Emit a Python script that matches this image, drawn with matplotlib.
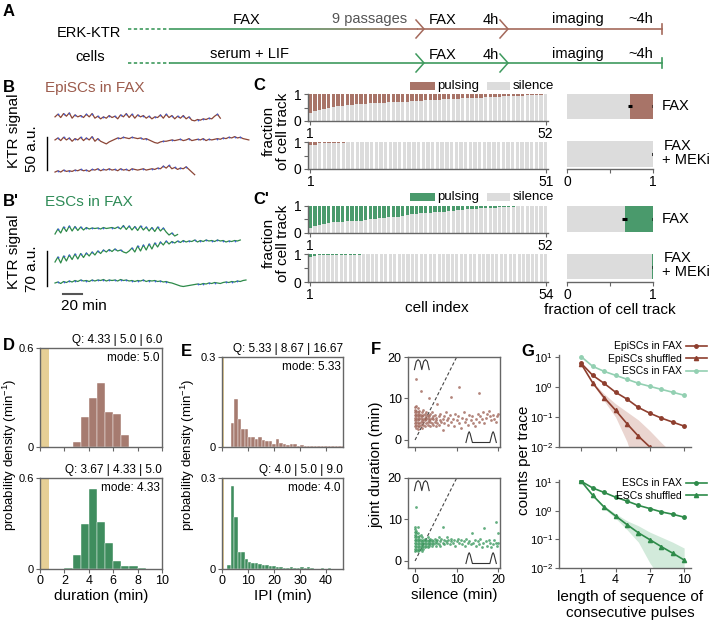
import numpy as np
import matplotlib.pyplot as plt
from matplotlib.patches import Rectangle
from matplotlib.collections import LineCollection
from matplotlib.colors import to_rgb

# ---------------- data ----------------
# B / B' example KTR traces (a.u., relative), sampled every 3 min
TRACE_DT = 3.0
EPI_TRACE_1 = [0, 4, -1, 5, 1, 6, -2, 3, 0, 2, -1, 4, 0, 5, -2, 1, -3, 0, -2, 2, -1, 1, -3, 3, 0, 5, -1, 4, -2, 3,
               0, 2, -2, 1, -3, 0, -1, 3, -2, 4, -1, 2, -3, 1, -2, 2, -3, 0, -5, -6, -4, -5, -3, -4, -2, -3, 1, 4, -2]
EPI_TRACE_2 = [0, 3, -1, 4, 0, 3, -2, 2, 0, 4, -1, 3, 0, 5, -2, 2, -2, -4, -6, -3, -1, 1, 3, 2, 4, 3, 2, 4, 3, 2,
               3, 1, 2, 0, -2, -4, -5, -3, -2, -2, -1, 0, -1, 0, 1, -1, 0, 2, -1, 0, 1, 0, 2, -1, 1, 0, 1, 2, 1, 3,
               2, 4, 3, 5, 3, 4, 2, 1, 0]
EPI_TRACE_3 = [-3, -1, -3, 0, -2, -1, -2, 0, -1, 1, -1, 0, -2, 1, 0, 2, -1, 1, 0, 2, 0, 1, -1, 2, 0, 1, -1, 2, 1, 0,
               1, 2, 0, 1, 2, 1, 3, 2, 6, 3, 7, 2, 4, 1, 3, 2, 5, 1, -3, -7]
ESC_TRACE_1 = [-8, 2, -6, 6, -3, 8, -2, 7, -1, 6, 0, 5, 2, 4, 3, 4, 2, 5, 3, 4, 5, 3, 6, 2, 9, 1, 8, 0, 7, -1,
               8, 0, 6, -2, 5, -3, 6, -2, 4, -4, -10, -6, -12, -9]
ESC_TRACE_2 = [0, 10, -2, 12, 2, 14, 5, 16, 6, 17, 9, 18, 12, 20, 14, 22, 17, 24, 20, 25, 21, 26, 22, 24, 20, 18,
               22, 28, 20, 32, 22, 34, 24, 36, 26, 38, 30, 40, 34, 42, 36, 41, 38, 42, 39, 43, 40, 42, 41, 44, 40,
               43, 41, 44, 42, 43, 41, 44, 42, 43, 40, 42, 41, 43, 42, 44]
ESC_TRACE_3 = [0, 2, -1, 3, 1, 4, 2, 5, 3, 6, 4, 5, 3, 6, 4, 6, 5, 7, 4, 6, 5, 6, 4, 7, 5, 6, 4, 5, 3, 5, 4, 6,
               3, 5, 4, 5, 3, 4, 2, 3, 1, 0, -2, -4, -6, -7, -6, -5, -4, -3, -2, -3, -1, -2, 0, -1, 1, 0, -1, 1, 2,
               1, 3, 2, 4, 3, 5, 6]

# C / C' silence fraction per cell (sorted)
EPI_FAX_SIL = [0.30, 0.36, 0.41, 0.45, 0.48, 0.51, 0.54, 0.56, 0.58, 0.60, 0.62, 0.63, 0.64, 0.65, 0.66, 0.67,
               0.68, 0.69, 0.70, 0.70, 0.71, 0.72, 0.73, 0.74, 0.75, 0.76, 0.77, 0.78, 0.79, 0.80, 0.81, 0.82,
               0.83, 0.84, 0.85, 0.85, 0.86, 0.87, 0.88, 0.88, 0.89, 0.90, 0.91, 0.92, 0.92, 0.93, 0.94, 0.95,
               0.96, 0.97, 0.98, 0.99]
EPI_MEK_SIL = [0.88, 0.90, 0.96, 0.97, 0.98, 0.98, 0.98, 0.98, 0.99, 0.99, 0.99, 0.99, 0.99, 0.99, 0.99] + [1.0] * 36
ESC_FAX_SIL = [0.20, 0.26, 0.31, 0.35, 0.37, 0.40, 0.41, 0.42, 0.43, 0.44, 0.45, 0.46, 0.48, 0.50, 0.52, 0.54,
               0.56, 0.58, 0.59, 0.61, 0.64, 0.67, 0.69, 0.71, 0.73, 0.74, 0.75, 0.76, 0.77, 0.78, 0.80, 0.82,
               0.84, 0.86, 0.88, 0.89, 0.90, 0.91, 0.92, 0.93, 0.94, 0.95, 0.96, 0.97, 0.98, 0.985, 0.99, 0.995,
               1.0, 1.0, 1.0, 1.0]
ESC_MEK_SIL = [0.90, 0.93, 0.96, 0.96, 0.96, 0.98, 0.98, 0.98, 0.98, 0.98, 0.98, 0.98, 0.99, 0.99, 0.99, 0.99] + [1.0] * 38

# summary bars: mean silence fraction and its error
SUMMARY_SIL = {'EpiSC FAX': 0.73, 'EpiSC MEKi': 0.995, 'ESC FAX': 0.67, 'ESC MEKi': 0.99}
SUMMARY_ERR = {'EpiSC FAX': 0.025, 'EpiSC MEKi': 0.004, 'ESC FAX': 0.03, 'ESC MEKi': 0.004}

# D durations histogram (bins of 2/3 min)
DUR_BIN = 2 / 3
DUR_EPI_START, DUR_EPI = 8 / 3, [0.03, 0.18, 0.30, 0.39, 0.21, 0.20, 0.07]
DUR_ESC_START, DUR_ESC = 2.0, [0.007, 0.095, 0.30, 0.53, 0.31, 0.17, 0.05, 0.022, 0.022, 0.009]

# E IPI histogram (bins of 4/3 min)
IPI_BIN = 4 / 3
IPI_EPI_START = 10 / 3
IPI_EPI = [0.079, 0.16, 0.093, 0.06, 0.06, 0.033, 0.033, 0.028, 0.035, 0.024, 0.019, 0.019, 0.011, 0.028, 0.013,
           0.011, 0.008, 0.011, 0.009, 0.005, 0.007, 0.005, 0.005, 0.004, 0.004, 0.002, 0.002, 0.004, 0.002, 0.002,
           0.004, 0.004, 0.004]
IPI_ESC_START = 2.0
IPI_ESC = [0.013, 0.275, 0.173, 0.055, 0.055, 0.033, 0.022, 0.021, 0.019, 0.015, 0.013, 0.013, 0.010, 0.011, 0.005,
           0.008, 0.004, 0.004, 0.008, 0.002, 0.002, 0.006, 0.002, 0.006, 0.002, 0.001, 0.001, 0.002, 0.001, 0.002,
           0.001, 0.001]

# F silence vs joint duration (min)
F_EPI = [(0, 3.3), (0, 4), (0, 4.7), (0, 5.3), (0, 6), (0, 6.7), (0, 7.3), (0, 8), (0.33, 3), (0.33, 3.7),
         (0.33, 4.3), (0.33, 5), (0.33, 5.7), (0.33, 6.3), (0.33, 7), (0.33, 8.3), (0.67, 2.7), (0.67, 3.3),
         (0.67, 4), (0.67, 4.7), (0.67, 5.3), (0.67, 6), (0.67, 6.7), (0.67, 7.7), (0.3, 14.7),
         (1, 3.3), (1, 4), (1, 5), (1, 5.7), (1, 6.3), (1, 7), (1.33, 3.7), (1.33, 4.3), (1.33, 5.3), (1.33, 6),
         (1.33, 11.7), (1.67, 3), (1.67, 4.7), (1.67, 5.7), (1.67, 6.7), (2, 3.7), (2, 4.3), (2, 5), (2, 6),
         (2, 7.3), (2.33, 3.3), (2.33, 4.7), (2.33, 5.3), (2.33, 6.3), (2.67, 4), (2.67, 5), (2.67, 5.7),
         (2.67, 6.7), (3, 3.7), (3, 4.3), (3, 5.3), (3, 6), (3.33, 4.7), (3.33, 5.7), (3.33, 10), (3.67, 3.3),
         (3.67, 4.3), (3.67, 5), (3.67, 6.3), (4, 4), (4, 5.3), (4, 6.7), (4.33, 3.7), (4.33, 5), (4.33, 5.7),
         (4.67, 4.3), (4.67, 6), (5, 3.3), (5, 4.7), (5, 5.3), (5.33, 8.7), (5.33, 4), (5.67, 5.7), (5.67, 3.7),
         (6, 4.7), (6, 6.3), (6.33, 4.3), (6.67, 5), (6.67, 2.3), (7, 5.7), (7, 4), (7.33, 6.7), (7.67, 4.7),
         (8, 3.7), (8, 5.3), (8.33, 6), (8.67, 10.3), (8.67, 4.3), (9, 5), (9.33, 3.3), (9.67, 6.3), (10, 4.7),
         (10.33, 5.7), (10.67, 12.7), (10.67, 4), (11, 3), (11.33, 5.3), (11.67, 6.7), (12, 4.3), (12.33, 5),
         (12.67, 3.7), (13, 6), (13.33, 4.7), (13.67, 5.7), (14, 4), (14.33, 3.3), (14.67, 5), (15, 6.3),
         (15.33, 11.3), (15.33, 4.3), (15.67, 5.7), (16, 5), (16.33, 6.7), (16.67, 4), (17, 5.3), (17.33, 6.3),
         (17.67, 7), (18, 5.7), (18.33, 4.7), (18.67, 6), (19, 5), (19.33, 4.3), (19.67, 5.7), (20, 6.3)]
F_ESC = [(0, 2.3), (0, 3), (0, 3.7), (0, 4.3), (0, 5), (0, 5.7), (0, 6.3), (0, 7), (0, 7.7), (0, 8.3),
         (0.33, 2.7), (0.33, 3.3), (0.33, 4), (0.33, 4.7), (0.33, 5.3), (0.33, 6), (0.33, 6.7), (0.33, 7.3),
         (0.33, 13), (0.67, 2.3), (0.67, 3), (0.67, 3.7), (0.67, 4.3), (0.67, 5), (0.67, 5.7), (0.67, 6.7),
         (0.67, 8.3), (1, 2.7), (1, 3.3), (1, 4), (1, 4.7), (1, 5.3), (1, 6), (1.33, 3), (1.33, 3.7), (1.33, 4.3),
         (1.33, 5), (1.33, 6.3), (1.67, 2.3), (1.67, 3.3), (1.67, 4), (1.67, 4.7), (1.67, 5.7), (2, 3), (2, 3.7),
         (2, 4.3), (2, 5), (2.33, 3.3), (2.33, 4), (2.33, 4.7), (2.33, 5.3), (2.67, 3.7), (2.67, 4.3), (2.67, 5),
         (3, 3.3), (3, 4), (3, 4.7), (3, 5.7), (3.33, 3.7), (3.33, 4.3), (3.33, 5), (3.67, 4), (3.67, 4.7),
         (3.67, 5.3), (4, 3.7), (4, 4.3), (4, 5), (4.33, 4), (4.33, 4.7), (4.67, 4.3), (4.67, 5.3), (5, 3.7),
         (5, 4.7), (5.33, 4.3), (5.33, 5), (5.67, 4), (5.67, 5.7), (6, 4.7), (6, 3.7), (6.33, 5.3), (6.67, 8.3),
         (6.67, 4.3), (7, 5), (7, 4), (7.33, 4.7), (7.67, 5.7), (7.67, 4.3), (8, 5), (8.33, 4), (8.67, 4.7),
         (8.67, 5.3), (9, 4.3), (9.33, 5), (9.67, 3.7), (10, 4.7), (10.33, 5.3), (10.67, 4.3), (11, 5),
         (11.33, 4), (11.67, 4.7), (12, 3.7), (12.33, 5.3), (12.67, 4.3), (13, 4.7), (13.33, 4), (13.67, 6.7),
         (14, 4.3), (14.33, 5), (14.67, 3.7), (15, 4.7), (15.33, 4), (15.67, 5.3), (16, 3.3), (16.33, 4.3),
         (16.67, 8), (17, 4.7), (17.33, 3.7), (17.67, 5), (18, 4.3), (18.33, 3.3), (18.67, 4), (19, 5),
         (19.33, 9.5), (19.33, 4.3), (19.67, 3.7), (20, 6.7), (20, 4.3)]
F_DIAG_SLOPE = 2

# G consecutive pulse sequence counts
SEQ_LEN = [1, 2, 3, 4, 5, 6, 7, 8, 9, 10]
G_EPI = [6.3, 2.5, 1.35, 0.68, 0.40, 0.21, 0.135, 0.093, 0.068, 0.05]
G_EPI_SHUF = [6.0, 1.4, 0.45, 0.17, 0.06, 0.023, 0.01, 0.004, 0.0015, 0.0006]
G_EPI_SHUF_LO = [6.0, 1.3, 0.35, 0.10, 0.015, 0.001, 0.0005, 0.0001, 0.0001, 0.0001]
G_EPI_SHUF_HI = [6.0, 1.5, 0.60, 0.28, 0.15, 0.08, 0.035, 0.014, 0.006, 0.003]
G_ESC_TOP = [10.5, 5.0, 3.4, 2.5, 1.85, 1.35, 1.07, 0.85, 0.68, 0.54]
G_ESC = [10.8, 6.3, 4.4, 3.0, 2.2, 1.55, 1.2, 0.92, 0.76, 0.6]
G_ESC_SHUF = [10.8, 3.5, 1.35, 0.66, 0.33, 0.17, 0.098, 0.056, 0.033, 0.019]
G_ESC_SHUF_LO = [10.8, 3.3, 1.2, 0.55, 0.22, 0.08, 0.015, 0.004, 0.002, 0.001]
G_ESC_SHUF_HI = [10.8, 3.7, 1.5, 0.80, 0.45, 0.30, 0.18, 0.12, 0.08, 0.05]

# ---------------- style ----------------
plt.rcParams['font.family'] = ['Liberation Sans', 'DejaVu Sans']
plt.rcParams['mathtext.fontset'] = 'custom'
plt.rcParams['mathtext.rm'] = 'Liberation Sans'
plt.rcParams['mathtext.it'] = 'Liberation Sans:italic'
plt.rcParams.update({
    'font.size': 9, 'axes.linewidth': 1.0, 'axes.edgecolor': '#666666',
    'xtick.color': '#666666', 'ytick.color': '#666666',
    'xtick.labelcolor': 'black', 'ytick.labelcolor': 'black',
    'xtick.major.size': 3, 'ytick.major.size': 3,
    'xtick.labelsize': 9, 'ytick.labelsize': 9,
    'xtick.major.pad': 1.5, 'ytick.major.pad': 1.5,
})

BROWN = '#8E3E2E'
BROWN_BAR = '#A87468'
BROWN_HIST = '#A67B70'
BROWN_DOT = '#A0675A'
GREEN = '#2E8B4A'
GREEN_BAR = '#4A9A6C'
GREEN_HIST = '#3F8D5E'
GREEN_DOT = '#3D9A60'
LIGHT_GREEN = '#93D0B2'
GRAY = '#DCDCDC'
KHAKI = '#E6CF96'
TRACE_BROWN = '#8B4536'
TRACE_GREEN = '#2D8A49'
PEAK_BLUE = '#3B5BDB'

W, H = 713, 620
fig = plt.figure(figsize=(W / 100, H / 100), dpi=100)


def px_axes(l, t, r, b):
    return fig.add_axes([l / W, 1 - b / H, (r - l) / W, (b - t) / H])


# ---------------- B / B' traces ----------------
def draw_traces(ax, traces, offsets, color):
    for tr, off in zip(traces, offsets):
        v = np.asarray(tr, float)
        t = np.arange(len(v)) * TRACE_DT
        ax.plot(t, v + off, color=color, lw=0.9)
        pk = [i for i in range(1, len(v) - 1) if v[i] > v[i - 1] and v[i] >= v[i + 1]]
        ax.plot(t[pk], v[pk] + off, 'o', color=PEAK_BLUE, ms=1.3, mew=0)


axb = px_axes(40, 100, 255, 180)
axb.set_xlim(-15.8, 210.5)
axb.set_ylim(0, 121)
axb.axis('off')
draw_traces(axb, [EPI_TRACE_1, EPI_TRACE_2, EPI_TRACE_3], [95.5, 60.6, 15], TRACE_BROWN)
axb.plot([-8.4, -8.4], [15, 65], color='black', lw=1)

axb2 = px_axes(40, 215, 255, 300)
axb2.set_xlim(-15.8, 210.5)
axb2.set_ylim(0, 170)
axb2.axis('off')
draw_traces(axb2, [ESC_TRACE_1, ESC_TRACE_2, ESC_TRACE_3], [140, 76, 34], TRACE_GREEN)
axb2.plot([-8.4, -8.4], [28, 98], color='black', lw=1)
axb2.plot([8.4, 28.4], [12, 12], color='#555555', lw=1.5)


# ---------------- C / C' ----------------
def cell_bars(ax, sil, color):
    sil = np.asarray(sil)
    n = len(sil)
    idx = np.arange(1, n + 1)
    ax.bar(idx, sil, width=0.72, color=GRAY, linewidth=0)
    ax.bar(idx, 1 - sil, bottom=sil, width=0.72, color=color, linewidth=0)
    ax.set_xlim(0.5, n + 0.5)
    ax.set_ylim(0, 1)
    ax.set_yticks([0, 0.5, 1])
    ax.set_yticklabels(['0', '', '1'], fontsize=10)
    ax.set_xticks([1, n])
    ax.set_xticklabels(['1', str(n)], fontsize=10)
    for s in ['top', 'right']:
        ax.spines[s].set_visible(False)


cell_bars(px_axes(308, 94, 548, 121), EPI_FAX_SIL, BROWN_BAR)
cell_bars(px_axes(308, 142, 548, 169), EPI_MEK_SIL, BROWN_BAR)
cell_bars(px_axes(308, 206, 548, 233), ESC_FAX_SIL, GREEN_BAR)
cell_bars(px_axes(308, 254, 548, 282), ESC_MEK_SIL, GREEN_BAR)


def summary_bars(ax, keys, color, lim):
    for i, k in enumerate(keys):
        s = SUMMARY_SIL[k]
        ax.barh(i, s, height=0.53, color=GRAY, linewidth=0)
        ax.barh(i, 1 - s, left=s, height=0.53, color=color, linewidth=0)
        ax.errorbar([s], [i], xerr=SUMMARY_ERR[k], fmt='none', ecolor='black', elinewidth=2.2, capsize=0)
        ax.errorbar([1.0], [i], xerr=0.006, fmt='none', ecolor='black', elinewidth=2.2, capsize=0)
    ax.set_ylim(*lim)
    ax.set_xlim(0, 1)
    ax.set_yticks([])
    ax.set_xticks([0, 0.5, 1])
    ax.set_xticklabels(['0', '', '1'], fontsize=10)
    for s in ['top', 'right', 'left']:
        ax.spines[s].set_visible(False)


summary_bars(px_axes(567, 90, 653, 169), ['EpiSC FAX', 'EpiSC MEKi'], BROWN_BAR, (1.316, -0.347))
summary_bars(px_axes(567, 202, 653, 282), ['ESC FAX', 'ESC MEKi'], GREEN_BAR, (1.326, -0.358))


# ---------------- D / E histograms ----------------
def hist_axes(box, start, width, heights, color, xlim, ymax, band, xticks, show_xlabels):
    ax = px_axes(*box)
    edges = start + np.arange(len(heights)) * width
    ax.axvspan(0, band, color=KHAKI, lw=0, zorder=0)
    ax.bar(edges, heights, width=width, align='edge', color=color, edgecolor='white', linewidth=0.3, zorder=2)
    ax.set_xlim(*xlim)
    ax.set_ylim(0, ymax)
    ax.set_yticks([0, ymax])
    ax.set_yticklabels(['0', f'{ymax:g}'], fontsize=8)
    ax.set_xticks(xticks)
    if not show_xlabels:
        ax.set_xticklabels([])
    return ax


fs_small = 8.5
axd1 = hist_axes((40, 348, 162, 447), DUR_EPI_START, DUR_BIN, DUR_EPI, BROWN_HIST, (0, 10), 0.6, 0.7,
                 [0, 2, 4, 6, 8, 10], False)
axd2 = hist_axes((40, 478, 162, 569), DUR_ESC_START, DUR_BIN, DUR_ESC, GREEN_HIST, (0, 10), 0.6, 0.7,
                 [0, 2, 4, 6, 8, 10], True)
axe1 = hist_axes((222, 357, 343, 447), IPI_EPI_START, IPI_BIN, IPI_EPI, BROWN_HIST, (0, 46.5), 0.3, 0.67,
                 [0, 10, 20, 30, 40], False)
axe2 = hist_axes((222, 478, 343, 569), IPI_ESC_START, IPI_BIN, IPI_ESC, GREEN_HIST, (0, 46.5), 0.3, 0.67,
                 [0, 10, 20, 30, 40], True)
axd2.set_xlabel('duration (min)', fontsize=11, labelpad=1)
axe2.set_xlabel('IPI (min)', fontsize=11, labelpad=1)

for ax, q, m in [(axd1, 'Q: 4.33 | 5.0 | 6.0', 'mode: 5.0'), (axd2, 'Q: 3.67 | 4.33 | 5.0', 'mode: 4.33'),
                 (axe1, 'Q: 5.33 | 8.67 | 16.67', 'mode: 5.33'), (axe2, 'Q: 4.0 | 5.0 | 9.0', 'mode: 4.0')]:
    ax.text(1.0, 1.02, q, transform=ax.transAxes, ha='right', va='bottom', fontsize=fs_small)
    ax.text(0.98, 0.96, m, transform=ax.transAxes, ha='right', va='top', fontsize=fs_small)


# ---------------- F scatter ----------------
def scatter_axes(box, pts, color, show_xlabels):
    ax = px_axes(*box)
    p = np.asarray(pts)
    ax.scatter(p[:, 0], p[:, 1], s=4, color=color, alpha=0.8, linewidths=0, zorder=2)
    ax.plot([0, 20 / F_DIAG_SLOPE], [0, 20], ls=(0, (3, 2)), color='#444444', lw=0.8, zorder=1)
    ax.set_xlim(-1.7, 20.4)
    ax.set_ylim(-1.7, 20)
    ax.set_xticks([0, 10, 20])
    ax.set_yticks([0, 10, 20])
    if not show_xlabels:
        ax.set_xticklabels([])
    # pulse icons
    tr = ax.transAxes
    ax.plot([0.07, 0.09, 0.11, 0.13, 0.15, 0.17, 0.19, 0.21, 0.23],
            [0.86, 0.95, 0.97, 0.95, 0.86, 0.95, 0.97, 0.95, 0.86], transform=tr, color='#333333', lw=0.8)
    ax.plot([0.63, 0.655, 0.665, 0.675, 0.70, 0.89, 0.915, 0.925, 0.935, 0.96],
            [0.05, 0.15, 0.17, 0.15, 0.05, 0.05, 0.15, 0.17, 0.15, 0.05], transform=tr, color='#333333', lw=0.8)
    return ax


axf1 = scatter_axes((408, 357, 500, 447), F_EPI, BROWN_DOT, False)
axf2 = scatter_axes((408, 478, 500, 568), F_ESC, GREEN_DOT, True)
axf2.set_xlabel('silence (min)', fontsize=11, labelpad=1)


# ---------------- G ----------------
def g_axes(box, show_xlabels):
    ax = px_axes(*box)
    ax.set_yscale('log')
    ax.set_ylim(0.01, 12)
    ax.set_xlim(-0.95, 10.6)
    ax.set_yticks([1e-2, 1e-1, 1, 1e1])
    ax.set_yticklabels([r'$10^{-2}$', r'$10^{-1}$', r'$10^{0}$', r'$10^{1}$'], fontsize=8)
    ax.minorticks_off()
    ax.set_xticks([1, 4, 7, 10])
    if not show_xlabels:
        ax.set_xticklabels([])
    for s in ['top', 'right']:
        ax.spines[s].set_visible(False)
    return ax


axg1 = g_axes((559, 355, 691, 447), False)
axg1.fill_between(SEQ_LEN, G_EPI_SHUF_LO, G_EPI_SHUF_HI, color='#D9B3AA', alpha=0.55, lw=0)
l1, = axg1.plot(SEQ_LEN, G_EPI, '-o', color=BROWN, ms=2.5, lw=1.2, label='EpiSCs in FAX')
l2, = axg1.plot(SEQ_LEN, G_EPI_SHUF, '-^', color=BROWN, ms=3, lw=1.2, label='EpiSCs shuffled')
l3, = axg1.plot(SEQ_LEN, G_ESC_TOP, '-o', color=LIGHT_GREEN, ms=2.5, lw=1.2, label='ESCs in FAX')
axg1.legend(handles=[l1, l2, l3], loc='upper right', bbox_to_anchor=(712 / W, 1 - 336 / H),
            bbox_transform=fig.transFigure, markerfirst=False, frameon=False, fontsize=7.5,
            handlelength=2.0, labelspacing=0.25, borderpad=0, handletextpad=0.4)

axg2 = g_axes((559, 480, 691, 568), True)
axg2.fill_between(SEQ_LEN, G_ESC_SHUF_LO, G_ESC_SHUF_HI, color='#B5DCC3', alpha=0.6, lw=0)
m1, = axg2.plot(SEQ_LEN, G_ESC, '-o', color=GREEN, ms=2.5, lw=1.2, label='ESCs in FAX')
m2, = axg2.plot(SEQ_LEN, G_ESC_SHUF, '-^', color=GREEN, ms=3, lw=1.2, label='ESCs shuffled')
axg2.legend(handles=[m1, m2], loc='upper right', bbox_to_anchor=(712 / W, 1 - 473 / H),
            bbox_transform=fig.transFigure, markerfirst=False, frameon=False, fontsize=7.5,
            handlelength=2.0, labelspacing=0.25, borderpad=0, handletextpad=0.4)

# ---------------- overlay: panel A and free text ----------------
ov = fig.add_axes([0, 0, 1, 1])
ov.set_xlim(0, W)
ov.set_ylim(H, 0)
ov.axis('off')


def txt(x, y, s, **kw):
    kw.setdefault('ha', 'center')
    kw.setdefault('va', 'center')
    ov.text(x, y, s, **kw)


LBL = dict(fontsize=12, fontweight='bold', ha='left')
for x, y, s in [(3, 12, 'A'), (3, 88, 'B'), (3, 202, "B'"), (253, 86, 'C'), (253, 199, "C'"),
                (3, 345, 'D'), (181, 352, 'E'), (371, 350, 'F'), (521, 351, 'G')]:
    txt(x, y, s, **LBL)

# panel A schematic
A_GREEN = '#3E9A5E'
A_BROWN = '#A4695B'
fsA = 10.5
txt(89, 33, 'ERK-KTR', fontsize=fsA)
txt(90, 57, 'cells', fontsize=fsA)
for y in (29, 63):
    ov.plot([128, 170], [y, y], color=A_GREEN, lw=1.2, ls=(0, (2, 1.5)))
xs = np.linspace(170, 418, 60)
seg = [[(xs[i], 29), (xs[i + 1], 29)] for i in range(len(xs) - 1)]
g, b = np.array(to_rgb(A_GREEN)), np.array(to_rgb(A_BROWN))
fr = np.clip((xs[:-1] - 260) / 150, 0, 1)
ov.add_collection(LineCollection(seg, colors=[g * (1 - f) + b * f for f in fr], lw=1.2))
ov.plot([418, 662], [29, 29], color=A_BROWN, lw=1.2)
ov.plot([170, 662], [63, 63], color=A_GREEN, lw=1.2)
for y, c in [(29, A_BROWN), (63, A_GREEN)]:
    for cx in (424, 508):
        ov.plot([cx - 8, cx, cx - 8], [y - 9, y, y + 9], color=c, lw=1.1)
    ov.plot([662, 662], [y - 5, y + 5], color=c, lw=1.2)
txt(247, 20, 'FAX', fontsize=fsA)
txt(370, 19, '9 passages', fontsize=fsA, color='#555555')
txt(249, 54, 'serum + LIF', fontsize=fsA)
for y in (20, 55):
    txt(443, y, 'FAX', fontsize=fsA)
    txt(491, y, '4h', fontsize=fsA)
    txt(578, y - 1, 'imaging', fontsize=fsA)
    txt(641, y - 1, '~4h', fontsize=fsA)

# B text
txt(45, 88, 'EpiSCs in FAX', fontsize=11, color='#9C5B4C', ha='left')
txt(45, 202, 'ESCs in FAX', fontsize=11, color='#2E8B57', ha='left')
txt(14, 131, 'KTR signal', fontsize=11, rotation=90)
txt(32, 149, '50 a.u.', fontsize=11, rotation=90)
txt(14, 252, 'KTR signal', fontsize=11, rotation=90)
txt(32, 269, '70 a.u.', fontsize=11, rotation=90)
txt(84, 306, '20 min', fontsize=11)

# C text
for y in (131, 243):
    txt(276, y, 'fraction\nof cell track', fontsize=11, rotation=90, linespacing=1.0)
for y, c in [(86, BROWN_BAR), (197, GREEN_BAR)]:
    ov.add_patch(Rectangle((410, y - 4), 25, 8, color=c, lw=0))
    txt(437, y, 'pulsing', fontsize=9.5, ha='left')
    ov.add_patch(Rectangle((487, y - 4), 23, 8, color=GRAY, lw=0))
    txt(513, y, 'silence', fontsize=9.5, ha='left')
txt(437, 308, 'cell index', fontsize=11)
txt(610, 310, 'fraction of cell track', fontsize=11)
for y in (106, 219):
    txt(662, y, 'FAX', fontsize=10.5, ha='left')
for y in (146, 258):
    txt(664, y, 'FAX', fontsize=10.5, ha='left')
    txt(662, y + 14, '+ MEKi', fontsize=10.5, ha='left')

# D-G axis labels
txt(10, 455, 'probability density (min$^{-1}$)', fontsize=9.5, rotation=90)
txt(188, 455, 'probability density (min$^{-1}$)', fontsize=9.5, rotation=90)
txt(376, 465, 'joint duration (min)', fontsize=11, rotation=90)
txt(524, 460, 'counts per trace', fontsize=11, rotation=90)
txt(630, 597, 'length of sequence of', fontsize=11)
txt(630, 613, 'consecutive pulses', fontsize=11)

fig.savefig('out.png', dpi=100)
